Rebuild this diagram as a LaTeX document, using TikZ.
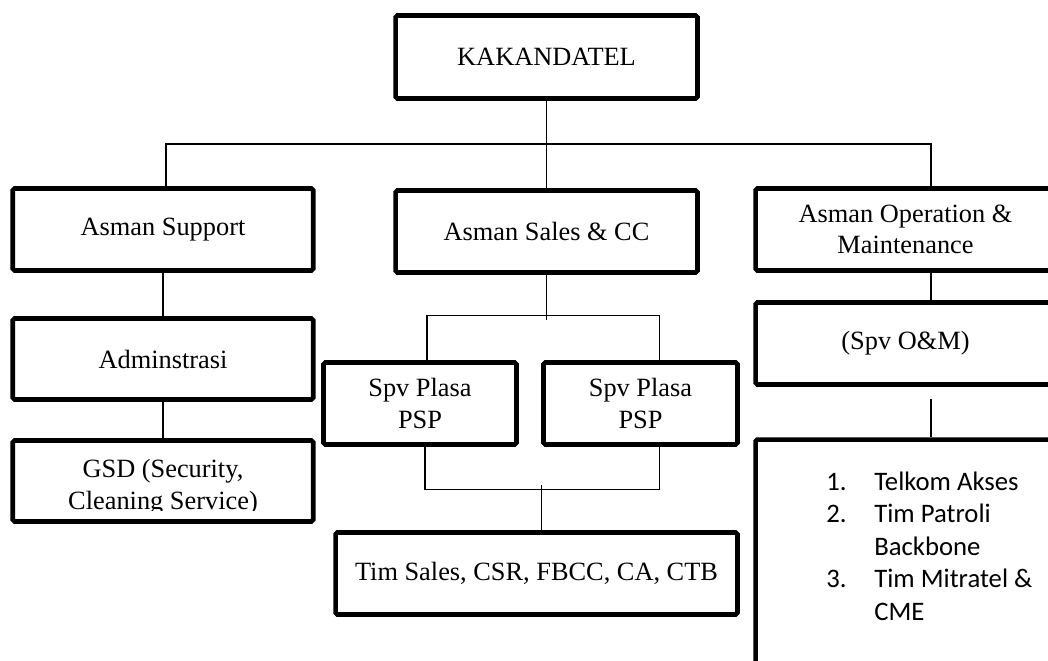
\documentclass[tikz,border=0pt]{standalone}
\usepackage{fontspec}
\setmainfont{Liberation Serif}
\newfontfamily\listfont{Carlito}
\usetikzlibrary{calc}

\tikzset{
	box/.style={draw, line width=2.6pt, rounded corners=1pt, minimum height=1.64cm, align=center, inner sep=0pt, font={\fontsize{15}{17.9}\selectfont}},
	plain/.style={align=center, inner sep=0pt, font={\fontsize{15}{17.9}\selectfont}},
	link/.style={line width=0.8pt},
}

\begin{document}
\begin{tikzpicture}[x=0.02cm, y=-0.02cm]
	\useasboundingbox (0,0) rectangle (1048,660);
	\clip (0,0) rectangle (1048,660);
	
	% top and the three assistant managers
	\node[box, minimum width=6.04cm, minimum height=1.66cm] (kak) at (546.5,57) {KAKANDATEL};
	\node[box, minimum width=6.01cm] (sup) at (163,229.5) {Asman Support};
	\node[box, minimum width=6.04cm] (sales) at (546.5,231.5) {Asman Sales \& CC};
	\node[box, minimum width=6cm] (om) at (905.5,229.5) {Asman Operation \&\\Maintenance};
	
	% support branch
	\node[box, minimum width=6.01cm, minimum height=1.62cm] (adm) at (163,359) {Adminstrasi};
	\node[box, minimum width=6.01cm, minimum height=1.62cm] (gsd) at (163,481) {};
	\begin{scope}
		\clip (gsd.north west) rectangle ($(gsd.east)+(0,29)$);
		\node[plain] (gsdtext) at (163,487) {GSD (Security,\\Cleaning Service)};
	\end{scope}
	
	% sales branch
	\node[box, minimum width=3.86cm] (spvL) at (420,403.5) {Spv Plasa\\PSP};
	\node[box, minimum width=3.88cm] (spvR) at (640.5,403.5) {Spv Plasa\\PSP};
	\node[box, minimum width=8.04cm] (tim) at (536.5,573.5) {Tim Sales, CSR, FBCC, CA, CTB};
	
	% operation branch
	\node[box, minimum width=6cm] (spvom) at (905.5,343.5) {(Spv O\&M)};
	\node[box, minimum width=6cm, minimum height=7.22cm] (tims) at (905.5,620) {};
	\node[anchor=base west, inner sep=0pt, font={\listfont\fontsize{15.2}{18.5}\selectfont}] (list) at (826,490)
		{\begin{tabular}[t]{@{}p{0.96cm}@{}l@{}}
			1. & Telkom Akses\\
			2. & Tim Patroli\\
			   & Backbone\\
			3. & Tim Mitratel \&\\
			   & CME
		\end{tabular}};
	
	% connectors
	\coordinate (busL) at (166,144);
	\coordinate (busR) at (931,144);
	\draw[link] (kak) -- (sales);
	\draw[link] (sup.north -| busL) |- (busR) -- (om.north -| busR);
	\draw[link] (sup) -- (adm);
	\draw[link] (adm) -- (gsd);
	
	\draw[link] (sales.south) -- ++(0,45.5);
	\draw[link] ($(spvL.north)+(7,0)$) -- ++(0,-44.5) -| ($(spvR.north)+(19,0)$);
	\draw[link] ($(spvL.south)+(5,0)$) -- ++(0,43) -| ($(spvR.south)+(19,0)$);
	\draw[link] ($(tim.north)+(5,0)$) -- ++(0,-45);
	
	\draw[link] ($(om.south)+(25.5,0)$) -- ($(spvom.north)+(25.5,0)$);
	\draw[link] ($(spvom.south)+(25.5,12)$) -- ($(tims.north)+(25.5,0)$);
\end{tikzpicture}
\end{document}
